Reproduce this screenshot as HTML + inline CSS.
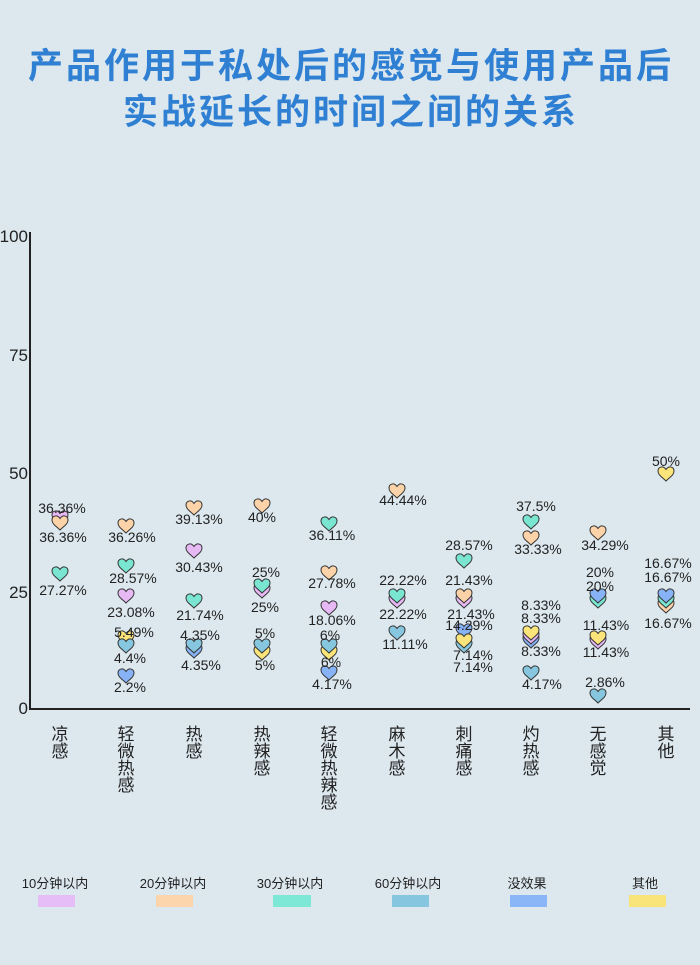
<!DOCTYPE html>
<html><head><meta charset="utf-8"><style>
html,body{margin:0;padding:0;background:#dce8ee;}
body{width:700px;height:965px;overflow:hidden;position:relative;font-family:"Liberation Sans","Noto Sans CJK SC",sans-serif;}
</style></head><body>
<svg width="700" height="965" xmlns="http://www.w3.org/2000/svg" style="position:absolute;left:0;top:0">
<defs>
<path id="h" d="M0,8 C-4,4 -8,2 -8,-2 C-8,-6 -3,-8 0,-3.5 C3,-8 8,-6 8,-2 C8,2 4,4 0,8Z" stroke="#333" stroke-width="1"/>
</defs>
<rect width="700" height="965" fill="#dce8ee"/>
<g font-family="Liberation Sans,Noto Sans CJK SC,sans-serif" font-weight="bold" font-size="35" fill="#2f7fd3" text-anchor="middle" letter-spacing="3">
<text x="351" y="78">产品作用于私处后的感觉与使用产品后</text>
<text x="351" y="124">实战延长的时间之间的关系</text>
</g>
<line x1="30" y1="232" x2="30" y2="710" stroke="#222" stroke-width="2"/>
<line x1="29" y1="709" x2="690" y2="709" stroke="#222" stroke-width="2"/>
<g font-family="Liberation Sans,sans-serif" font-size="17" fill="#222" text-anchor="end">
<text x="28" y="242">100</text><text x="28" y="361">75</text><text x="28" y="479">50</text><text x="28" y="598">25</text><text x="28" y="714">0</text>
</g>
<g font-family="Liberation Sans,Noto Sans CJK SC,sans-serif" font-size="17" fill="#222" text-anchor="middle">
<text x="60" y="740">凉</text><text x="60" y="757">感</text>
<text x="126" y="740">轻</text><text x="126" y="757">微</text><text x="126" y="774">热</text><text x="126" y="791">感</text>
<text x="194" y="740">热</text><text x="194" y="757">感</text>
<text x="262" y="740">热</text><text x="262" y="757">辣</text><text x="262" y="774">感</text>
<text x="329" y="740">轻</text><text x="329" y="757">微</text><text x="329" y="774">热</text><text x="329" y="791">辣</text><text x="329" y="808">感</text>
<text x="397" y="740">麻</text><text x="397" y="757">木</text><text x="397" y="774">感</text>
<text x="464" y="740">刺</text><text x="464" y="757">痛</text><text x="464" y="774">感</text>
<text x="531" y="740">灼</text><text x="531" y="757">热</text><text x="531" y="774">感</text>
<text x="598" y="740">无</text><text x="598" y="757">感</text><text x="598" y="774">觉</text>
<text x="666" y="740">其</text><text x="666" y="757">他</text>
</g>
<g>
<use href="#h" x="60" y="517" fill="#e6b8f4"/><use href="#h" x="60" y="522" fill="#fcd3a8"/><use href="#h" x="60" y="573" fill="#7ae6d2"/>
<use href="#h" x="126" y="525" fill="#fcd3a8"/><use href="#h" x="126" y="565" fill="#7ae6d2"/><use href="#h" x="126" y="595" fill="#e6b8f4"/>
<use href="#h" x="126" y="637" fill="#fbe47a"/><use href="#h" x="126" y="645" fill="#86c6de"/><use href="#h" x="126" y="675" fill="#88b2f6"/>
<use href="#h" x="194" y="507" fill="#fcd3a8"/><use href="#h" x="194" y="550" fill="#e6b8f4"/><use href="#h" x="194" y="600" fill="#7ae6d2"/>
<use href="#h" x="194" y="650" fill="#88b2f6"/><use href="#h" x="194" y="645" fill="#86c6de"/>
<use href="#h" x="262" y="505" fill="#fcd3a8"/><use href="#h" x="262" y="590" fill="#e6b8f4"/><use href="#h" x="262" y="585" fill="#7ae6d2"/>
<use href="#h" x="262" y="652" fill="#fbe47a"/><use href="#h" x="262" y="645" fill="#86c6de"/>
<use href="#h" x="329" y="523" fill="#7ae6d2"/><use href="#h" x="329" y="572" fill="#fcd3a8"/><use href="#h" x="329" y="607" fill="#e6b8f4"/>
<use href="#h" x="329" y="652" fill="#fbe47a"/><use href="#h" x="329" y="645" fill="#86c6de"/><use href="#h" x="329" y="672" fill="#88b2f6"/>
<use href="#h" x="397" y="490" fill="#fcd3a8"/><use href="#h" x="397" y="600" fill="#e6b8f4"/><use href="#h" x="397" y="595" fill="#7ae6d2"/><use href="#h" x="397" y="632" fill="#86c6de"/>
<use href="#h" x="464" y="560" fill="#7ae6d2"/><use href="#h" x="464" y="600" fill="#e6b8f4"/><use href="#h" x="464" y="595" fill="#fcd3a8"/>
<use href="#h" x="464" y="630" fill="#88b2f6"/><use href="#h" x="464" y="645" fill="#86c6de"/><use href="#h" x="464" y="640" fill="#fbe47a"/>
<use href="#h" x="531" y="521" fill="#7ae6d2"/><use href="#h" x="531" y="537" fill="#fcd3a8"/>
<use href="#h" x="531" y="640" fill="#88b2f6"/><use href="#h" x="531" y="636" fill="#e6b8f4"/><use href="#h" x="531" y="632" fill="#fbe47a"/><use href="#h" x="531" y="672" fill="#86c6de"/>
<use href="#h" x="598" y="532" fill="#fcd3a8"/><use href="#h" x="598" y="600" fill="#7ae6d2"/><use href="#h" x="598" y="595" fill="#88b2f6"/>
<use href="#h" x="598" y="641" fill="#e6b8f4"/><use href="#h" x="598" y="637" fill="#fbe47a"/><use href="#h" x="598" y="695" fill="#86c6de"/>
<use href="#h" x="666" y="473" fill="#fbe47a"/><use href="#h" x="666" y="605" fill="#fcd3a8"/><use href="#h" x="666" y="600" fill="#7ae6d2"/><use href="#h" x="666" y="595" fill="#88b2f6"/>
</g>
<g font-family="Liberation Sans,sans-serif" font-size="14" fill="#222" text-anchor="middle" dominant-baseline="central">
<text x="62" y="508">36.36%</text><text x="63" y="537">36.36%</text><text x="63" y="590">27.27%</text>
<text x="132" y="537">36.26%</text><text x="133" y="578">28.57%</text><text x="131" y="612">23.08%</text><text x="134" y="632">5.49%</text><text x="130" y="658">4.4%</text><text x="130" y="687">2.2%</text>
<text x="199" y="519">39.13%</text><text x="199" y="567">30.43%</text><text x="200" y="615">21.74%</text><text x="200" y="635">4.35%</text><text x="201" y="665">4.35%</text>
<text x="262" y="517">40%</text><text x="266" y="572">25%</text><text x="265" y="607">25%</text><text x="265" y="633">5%</text><text x="265" y="665">5%</text>
<text x="332" y="535">36.11%</text><text x="332" y="583">27.78%</text><text x="332" y="620">18.06%</text><text x="330" y="635">6%</text><text x="331" y="662">6%</text><text x="332" y="684">4.17%</text>
<text x="403" y="500">44.44%</text><text x="403" y="580">22.22%</text><text x="403" y="614">22.22%</text><text x="405" y="644">11.11%</text>
<text x="469" y="545">28.57%</text><text x="469" y="580">21.43%</text><text x="471" y="614">21.43%</text><text x="469" y="625">14.29%</text><text x="473" y="655">7.14%</text><text x="473" y="667">7.14%</text>
<text x="536" y="506">37.5%</text><text x="538" y="549">33.33%</text><text x="541" y="605">8.33%</text><text x="541" y="618">8.33%</text><text x="541" y="651">8.33%</text><text x="542" y="684">4.17%</text>
<text x="605" y="545">34.29%</text><text x="600" y="572">20%</text><text x="600" y="586">20%</text><text x="606" y="625">11.43%</text><text x="606" y="652">11.43%</text><text x="605" y="682">2.86%</text>
<text x="666" y="461">50%</text><text x="668" y="563">16.67%</text><text x="668" y="577">16.67%</text><text x="668" y="623">16.67%</text>
</g>
<g font-family="Liberation Sans,Noto Sans CJK SC,sans-serif" font-size="13" fill="#222" text-anchor="middle">
<text x="55" y="888">10分钟以内</text><text x="173" y="888">20分钟以内</text><text x="290" y="888">30分钟以内</text><text x="408" y="888">60分钟以内</text><text x="527" y="888">没效果</text><text x="645" y="888">其他</text>
</g>
<rect x="38" y="895" width="37" height="12" fill="#e6bdf6"/>
<rect x="156" y="895" width="37" height="12" fill="#fcd5ac"/>
<rect x="273" y="895" width="38" height="12" fill="#7ce8d5"/>
<rect x="392" y="895" width="37" height="12" fill="#86c6de"/>
<rect x="510" y="895" width="37" height="12" fill="#8ab6f7"/>
<rect x="629" y="895" width="37" height="12" fill="#f9e47a"/>
</svg>
</body></html>
